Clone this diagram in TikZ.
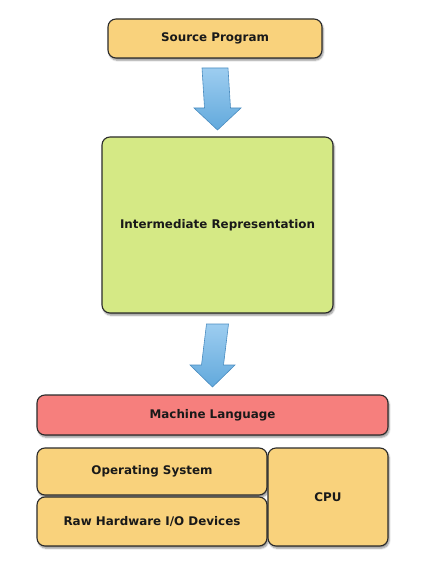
\documentclass[tikz,border=0pt]{standalone}
\usepackage{fontspec}
\newfontfamily\boxfont{DejaVu Sans}
\usetikzlibrary{positioning, calc, shadows.blur}
\definecolor{BoxOrange}{HTML}{F9D27C}
\definecolor{BoxGreen}{HTML}{D5E985}
\definecolor{BoxRed}{HTML}{F67F7D}
\definecolor{EdgeDark}{HTML}{2B2B2B}
\definecolor{ArrowLight}{HTML}{9DCDF0}
\definecolor{ArrowDark}{HTML}{62A9DC}
\definecolor{ArrowEdge}{HTML}{4A8CC0}

\begin{document}
\begin{tikzpicture}[x=1pt, y=-1pt,
            block/.style={draw=EdgeDark, line width=1.1pt, rounded corners=8pt, inner sep=0pt, outer sep=0pt, text=black!90, align=center, font=\boxfont\bfseries\fontsize{11.9}{14}\selectfont, blur shadow={shadow xshift=1.2pt, shadow yshift=-2.2pt, shadow blur steps=6, shadow opacity=45}},
            stack/.style={block, fill=BoxOrange},
            fatarrow/.style={draw=ArrowEdge, line width=0.6pt, line join=miter, top color=ArrowLight, bottom color=ArrowDark}
        ]
            \useasboundingbox (0,0) rectangle (435,569);

            % Top part
            \node[stack, minimum width=214pt, minimum height=39pt] at (215, 38.5) (src) {Source Program};

            \node[block, fill=BoxGreen, minimum width=231pt, minimum height=176pt] at (217.5, 225) (ir) {Intermediate Representation};

            % Fat arrows
            \path[fatarrow] ($(src.south)+(-13,10)$) -- ($(src.south)+(13,10)$) -- ($(ir.north)+(13,-29)$) -- ($(ir.north)+(23.5,-29)$) -- ($(ir.north)+(0,-7)$) -- ($(ir.north)+(-23.5,-29)$) -- ($(ir.north)+(-13,-29)$) -- cycle;

            % Bottom part
            \node[block, fill=BoxRed, minimum width=351pt, minimum height=40pt] at (212.5, 415) (ml) {Machine Language};

            \path[fatarrow] ($(ir.south)+(-11,11)$) -- ($(ir.south)+(11,11)$) -- ($(ml.north)+(11,-30)$) -- ($(ml.north)+(22.5,-30)$) -- ($(ml.north)+(0,-8)$) -- ($(ml.north)+(-22.5,-30)$) -- ($(ml.north)+(-11,-30)$) -- cycle;

            \node[stack, minimum width=230pt, minimum height=47pt] at (152, 471.5) (os) {Operating System};
            \node[stack, minimum width=230pt, minimum height=49pt, below=2pt of os] (raw) {Raw Hardware I/O Devices};
            \node[stack, minimum width=120pt, minimum height=98pt, anchor=north west] at ([xshift=1pt]os.north east) (cpu) {CPU};

        \end{tikzpicture}
\end{document}
